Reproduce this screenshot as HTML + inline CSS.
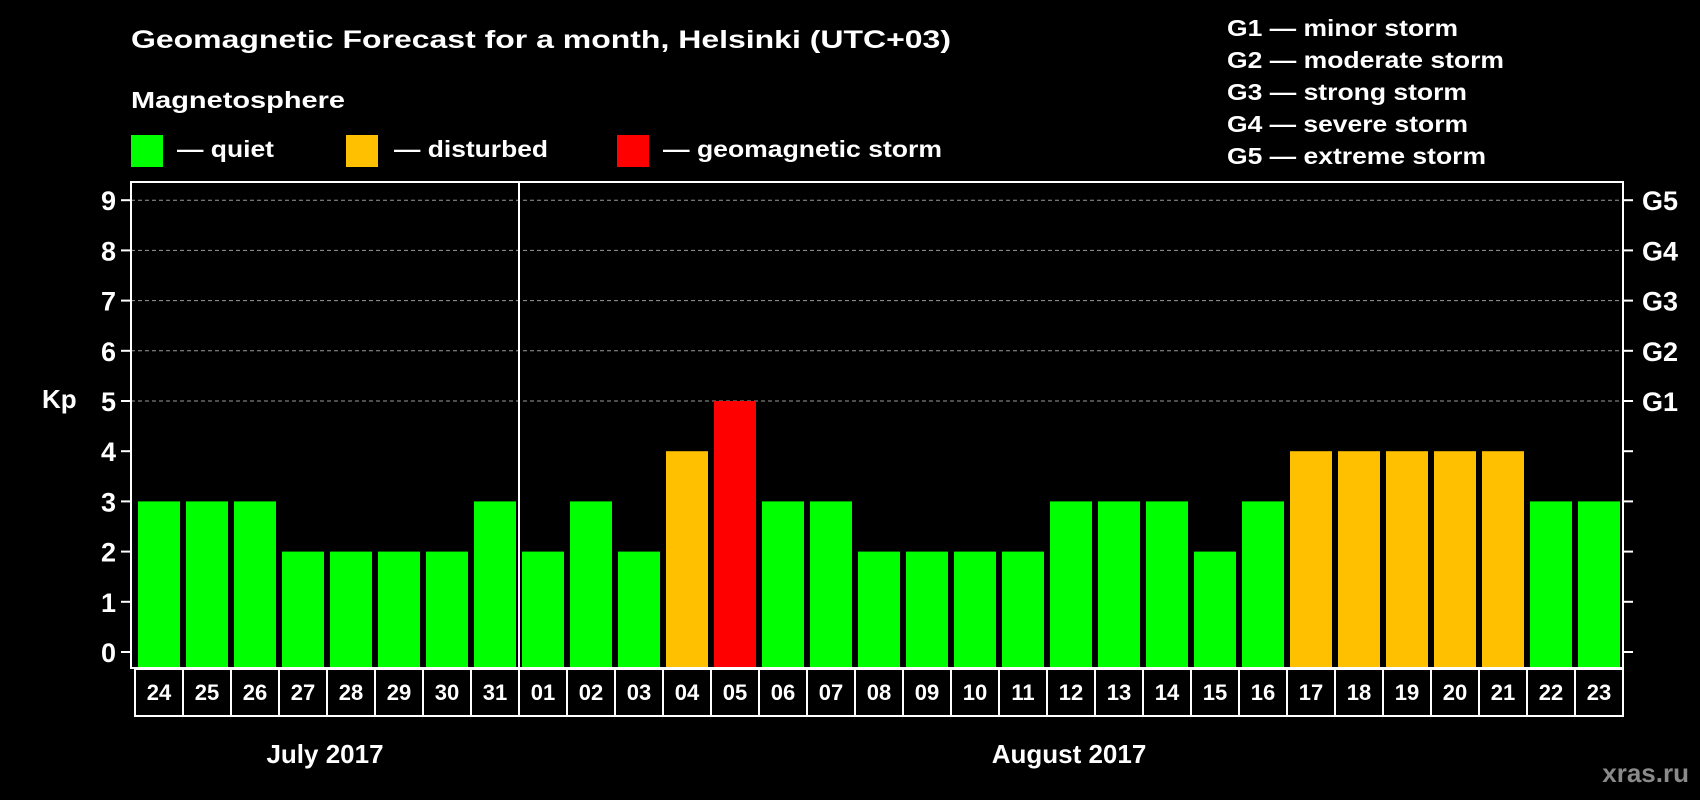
<!DOCTYPE html>
<html><head><meta charset="utf-8"><style>
html,body{margin:0;padding:0;background:#000;}
svg{display:block;font-family:"Liberation Sans",sans-serif;font-weight:bold;}
</style></head><body>
<svg id="chart" width="1700" height="800" viewBox="0 0 1700 800">
<rect x="0" y="0" width="1700" height="800" fill="#000"/>
<text x="131" y="48" fill="#fff" font-size="25" textLength="820" lengthAdjust="spacingAndGlyphs">Geomagnetic Forecast for a month, Helsinki (UTC+03)</text>
<text x="131" y="108" fill="#fff" font-size="23" textLength="214" lengthAdjust="spacingAndGlyphs">Magnetosphere</text>
<g>
<rect x="131" y="135" width="32" height="32" fill="#00ff00"/>
<text x="177" y="157" fill="#fff" font-size="23" textLength="97" lengthAdjust="spacingAndGlyphs">— quiet</text>
</g>
<g>
<rect x="346" y="135" width="32" height="32" fill="#ffc000"/>
<text x="394" y="157" fill="#fff" font-size="23" textLength="154" lengthAdjust="spacingAndGlyphs">— disturbed</text>
</g>
<g>
<rect x="617" y="135" width="32" height="32" fill="#ff0000"/>
<text x="663" y="157" fill="#fff" font-size="23" textLength="279" lengthAdjust="spacingAndGlyphs">— geomagnetic storm</text>
</g>
<g>
<text x="1227" y="36" fill="#fff" font-size="23" textLength="231" lengthAdjust="spacingAndGlyphs">G1 — minor storm</text>
<text x="1227" y="68" fill="#fff" font-size="23" textLength="277" lengthAdjust="spacingAndGlyphs">G2 — moderate storm</text>
<text x="1227" y="100" fill="#fff" font-size="23" textLength="240" lengthAdjust="spacingAndGlyphs">G3 — strong storm</text>
<text x="1227" y="132" fill="#fff" font-size="23" textLength="241" lengthAdjust="spacingAndGlyphs">G4 — severe storm</text>
<text x="1227" y="164" fill="#fff" font-size="23" textLength="259" lengthAdjust="spacingAndGlyphs">G5 — extreme storm</text>
</g>
<text x="42" y="408" fill="#fff" font-size="26">Kp</text>
<text x="325" y="763" fill="#fff" font-size="26" text-anchor="middle">July 2017</text>
<text x="1069" y="763" fill="#fff" font-size="26" text-anchor="middle">August 2017</text>
<text x="1689" y="782" fill="#8a8a8a" font-size="26" text-anchor="end">xras.ru</text>
<g id="grid"></g><g id="bars"></g><g id="axes"></g><g id="dates"></g>
</svg>
<script>
const days = ["24","25","26","27","28","29","30","31","01","02","03","04","05","06","07","08","09","10","11","12","13","14","15","16","17","18","19","20","21","22","23"];
const kpValues = [3,3,3,2,2,2,2,3,2,3,2,4,5,3,3,2,2,2,2,3,3,3,2,3,4,4,4,4,4,3,3];
const yTicks = [0,1,2,3,4,5,6,7,8,9];
const gLabels = ["G1","G2","G3","G4","G5"];
const gLevels = [5,6,7,8,9];
const monthBoundaryIndex = 8;

const NS = "http://www.w3.org/2000/svg";
const plotL = 131, plotR = 1623, plotT = 182, plotB = 668;
const boxL = 135, pitch = (1623 - 135) / days.length, barW = 42;
function y(v){ return 652 - v * 50.2; }
function xc(i){ return boxL + (i + 0.5) * pitch; }
function mk(tag, attrs, parent){
  const e = document.createElementNS(NS, tag);
  for (const k in attrs) e.setAttribute(k, attrs[k]);
  parent.appendChild(e); return e;
}
const grid = document.getElementById("grid"), bars = document.getElementById("bars"),
      axes = document.getElementById("axes"), dates = document.getElementById("dates");

yTicks.forEach(v => {
  if (v >= 5) {
    const g = mk("line", {x1: plotL, x2: plotR, y1: y(v), y2: y(v), stroke: "#9a9a9a", "stroke-width": 1, "stroke-dasharray": "4,3"}, grid);
    
    
  }
  const tl = mk("line", {x1: plotL - 10, x2: plotL, y1: y(v), y2: y(v), stroke: "#fff", "stroke-width": 2}, axes);
  
  
  const tr = mk("line", {x1: plotR, x2: plotR + 10, y1: y(v), y2: y(v), stroke: "#fff", "stroke-width": 2}, axes);
  
  
  const t = mk("text", {x: 116, y: y(v) + 10, fill: "#fff", "font-size": 27, "text-anchor": "end"}, axes);
  t.textContent = v;
  
  
});
gLabels.forEach((g, i) => {
  const t = mk("text", {x: 1642, y: y(gLevels[i]) + 10, fill: "#fff", "font-size": 27}, axes);
  t.textContent = g;
  
  
});
kpValues.forEach((v, i) => {
  const col = v >= 5 ? "#ff0000" : (v >= 4 ? "#ffc000" : "#00ff00");
  const r = mk("rect", {x: xc(i) - barW / 2, y: y(v), width: barW, height: plotB - y(v), fill: col}, bars);
  
  
});
const frame = mk("rect", {x: plotL, y: plotT, width: plotR - plotL, height: plotB - plotT, fill: "none", stroke: "#fff", "stroke-width": 2}, axes);


const sep = mk("line", {x1: boxL + monthBoundaryIndex * pitch, x2: boxL + monthBoundaryIndex * pitch, y1: plotT, y2: plotB, stroke: "#fff", "stroke-width": 2}, axes);


days.forEach((d, i) => {
  const b = mk("rect", {x: boxL + i * pitch, y: 669, width: pitch, height: 47, fill: "#000", stroke: "#fff", "stroke-width": 2}, dates);
  
  
  const t = mk("text", {x: xc(i), y: 700, fill: "#fff", "font-size": 22, "text-anchor": "middle"}, dates);
  t.textContent = d;
  
  
});
</script>
</body></html>
